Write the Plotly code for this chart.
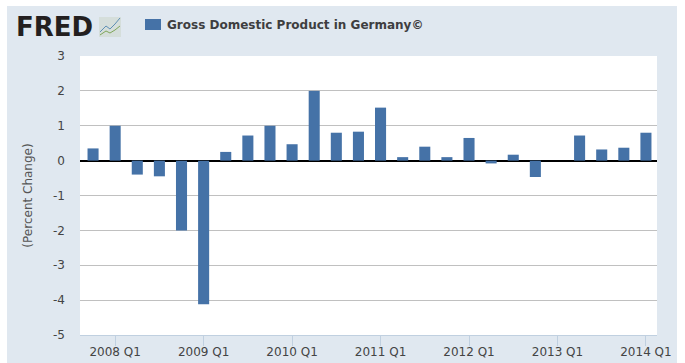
import plotly.graph_objects as go

quarters = ["2007 Q4","2008 Q1","2008 Q2","2008 Q3","2008 Q4","2009 Q1","2009 Q2","2009 Q3","2009 Q4",
            "2010 Q1","2010 Q2","2010 Q3","2010 Q4","2011 Q1","2011 Q2","2011 Q3","2011 Q4",
            "2012 Q1","2012 Q2","2012 Q3","2012 Q4","2013 Q1","2013 Q2","2013 Q3","2013 Q4","2014 Q1"]
gdp_change = [0.35,1.0,-0.4,-0.45,-2.0,-4.12,0.25,0.72,1.0,0.47,2.0,0.8,0.83,1.52,0.1,0.4,0.1,0.65,
              -0.08,0.17,-0.47,0.0,0.72,0.32,0.37,0.8]
tick_labels = ["2008 Q1","2009 Q1","2010 Q1","2011 Q1","2012 Q1","2013 Q1","2014 Q1"]
y_ticks = [-5,-4,-3,-2,-1,0,1,2,3]
series_name = "Gross Domestic Product in Germany©"

W, H = 685, 363
L, R, T, B = 80, 657, 56, 335
FONT = "DejaVu Sans"
def px(x): return (x-L)/(R-L)
def py(y): return (B-y)/(B-T)

fig = go.Figure(go.Bar(x=quarters, y=gdp_change, name=series_name, marker_color="#4572A7",
                       marker_line_width=0, width=0.5, showlegend=False))

shapes = [dict(type="rect", xref="paper", yref="paper", x0=px(7), x1=px(677), y0=py(363), y1=py(6),
               fillcolor="#E0E8F0", line_width=0, layer="below"),
          dict(type="rect", xref="paper", yref="paper", x0=0, x1=1, y0=0, y1=1,
               fillcolor="#FFFFFF", line_width=0, layer="below"),
          dict(type="rect", xref="paper", yref="paper", x0=px(145), x1=px(161), y0=py(30), y1=py(19),
               fillcolor="#4572A7", line_width=0, layer="above"),
          dict(type="rect", xref="paper", yref="paper", x0=px(99), x1=px(121), y0=py(37), y1=py(17),
               fillcolor="#D5DEDB", line_width=0, layer="above"),
          dict(type="path", xref="paper", yref="paper", line=dict(color="#5E8FB5", width=1),
               path="M %f %f L %f %f L %f %f L %f %f L %f %f" % (px(100),py(32),px(106),py(26),px(110),py(29),px(115),py(24),px(120),py(18))),
          dict(type="path", xref="paper", yref="paper", line=dict(color="#7FA65A", width=1),
               path="M %f %f L %f %f L %f %f L %f %f L %f %f" % (px(100),py(35),px(106),py(31),px(110),py(33),px(115),py(30),px(120),py(26))),
          ]

fig.update_layout(
    width=W, height=H, autosize=False,
    margin=dict(l=L, r=W-R, t=T, b=H-B, pad=0),
    paper_bgcolor="#FFFFFF", plot_bgcolor="rgba(0,0,0,0)",
    font=dict(family=FONT, size=12, color="#444444"),
    shapes=shapes, showlegend=False,
    annotations=[
        dict(text="<b>FRED</b>", xref="paper", yref="paper", x=px(15), y=py(27), xanchor="left", yanchor="middle",
             showarrow=False, borderpad=0, font=dict(family="DejaVu Sans", size=26, color="#231F20")),
        dict(text="<b>"+series_name+"</b>", xref="paper", yref="paper", x=px(166), y=py(25), xanchor="left", yanchor="middle",
             showarrow=False, borderpad=0, font=dict(family=FONT, size=12, color="#3E3E40")),
    ],
    xaxis=dict(type="category", categoryorder="array", categoryarray=quarters, range=[-0.59,25.5],
               tickmode="array", tickvals=tick_labels, ticktext=tick_labels, ticks="outside", ticklen=10,
               tickcolor="#C0D0E0", tickwidth=1, showline=True, linecolor="#C0D0E0", linewidth=1,
               showgrid=False, tickfont=dict(size=12, color="#444444"), tickangle=0, zeroline=False,
               ticklabelstandoff=-4, automargin=False),
    yaxis=dict(range=[-5,3], tickmode="array", tickvals=y_ticks, ticktext=[str(v) for v in y_ticks],
               showgrid=True, gridcolor="#C0C0C0", gridwidth=1, zeroline=True, zerolinecolor="#000000",
               zerolinewidth=2, ticks="", ticklabelstandoff=14, tickfont=dict(size=12, color="#444444"),
               automargin=False,
               title=dict(text="(Percent Change)", standoff=17, font=dict(size=12, color="#555555"))),
)
fig.write_html("out.html", config={"displayModeBar": False}, post_script="document.body.style.margin='0';")
